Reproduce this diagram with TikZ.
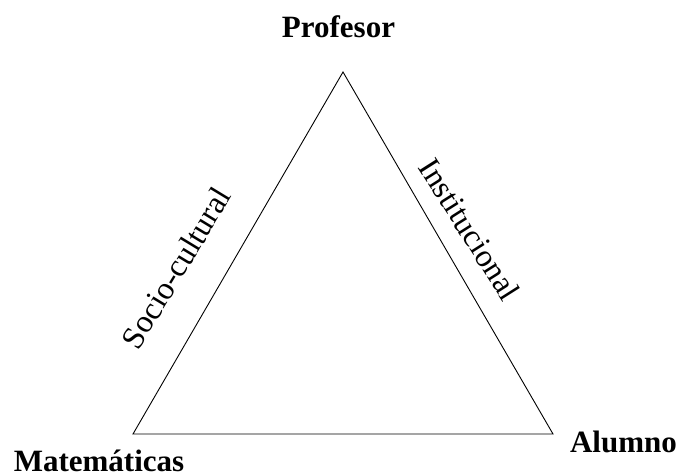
\documentclass[tikz,border=0pt]{standalone}
\usepackage{fontspec}
\setmainfont{Liberation Serif}
\begin{document}
\begin{tikzpicture}[x=1pt,y=1pt,
  vertexlabel/.style={font=\fontsize{31}{31}\selectfont\bfseries, inner sep=0pt, anchor=base},
  sidelabel/.style={font=\fontsize{32}{32}\selectfont, inner sep=0pt, anchor=base},
  edge/.style={line width=0.9pt, line join=miter}]
\useasboundingbox (0,0) rectangle (679,475);
% corners of the didactic triangle
\coordinate (top) at (343,403);
\coordinate (left) at (133,41);
\coordinate (right) at (553,41);
\draw[edge] (top) -- (left) -- (right) -- cycle;
% vertex labels
\node[vertexlabel] (prof) at (338.5,437.5) {Profesor};
\node[vertexlabel] (mat) at (99,4) {Matemáticas};
\node[vertexlabel] (alu) at (623.5,22.3) {Alumno};
% side labels
\node[sidelabel, rotate=58.8] (soc) at (185.5,201.5) {Socio-cultural};
\node[sidelabel, rotate=-57.6] (inst) at (460.5,240) {Institucional};
\end{tikzpicture}
\end{document}
